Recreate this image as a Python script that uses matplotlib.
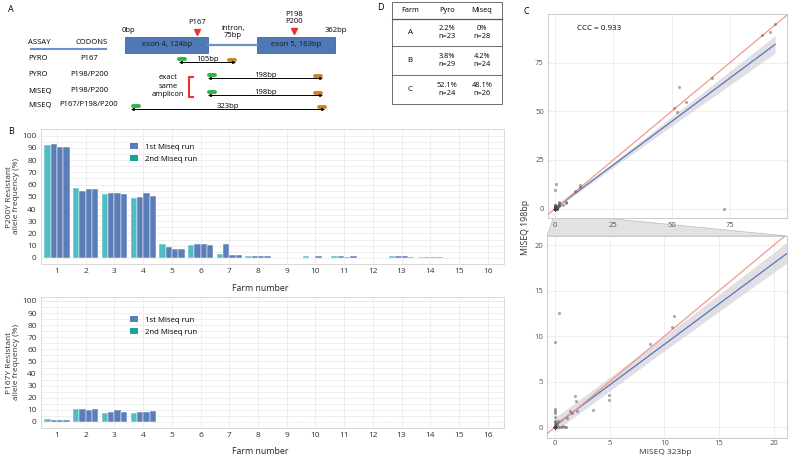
import numpy as np
import matplotlib
matplotlib.use('Agg')
import matplotlib.pyplot as plt
from matplotlib.patches import Rectangle, Polygon, Patch

plt.rcParams['font.family'] = ['Open Sans', 'DejaVu Sans']

W, H = 789, 458

# ---------------- data ----------------
farms = list(range(1, 17))
# each farm: [2nd Miseq run, 1st Miseq run x3]
p200y = [
    [92, 93, 91, 91],
    [57, 55, 56, 56],
    [52, 53, 53, 52],
    [49, 50, 53, 51],
    [11, 9, 7.5, 7.5],
    [10.5, 11, 11, 10.5],
    [3.5, 11, 2, 2],
    [1.8, 1.8, 1.8, 1.8],
    [0, 0, 0, 0],
    [1.2, 0, 1.2, 0],
    [1.2, 1.2, 1.0, 1.2],
    [0, 0, 0, 0],
    [1.2, 1.2, 1.2, 0.8],
    [0.7, 0.8, 1.0, 1.0],
    [0, 0, 0, 0],
    [0, 0, 0, 0],
]
p167y = [
    [2.5, 1.5, 2, 2],
    [11, 10.5, 10, 10.5],
    [7, 8, 9.5, 8],
    [7.5, 8.5, 8, 9],
] + [[0, 0, 0, 0]] * 12
bar_run = [2, 1, 1, 1]
run_names = {1: '1st Miseq run', 2: '2nd Miseq run'}

# panel C: per sample resistant allele frequency (%)
miseq_323 = [88.7, 92, 94.4, 67.2, 51, 52.5, 53.2, 56, 72.5,
             0, 0.4, 10.7, 10.9, 8.7, 4.9, 4.9, 3.5, 1.8, 1.9, 2.0, 1.4, 1.6, 1.1,
             0, 0, 0, 0, 0, 0, 0, 0.3, 0.2, 0.5, 0.6, 0.9, 1.0, 0.3, 0.1, 0.7]
miseq_198 = [89.3, 91, 95, 67.3, 51.6, 49.4, 62.4, 54.9, 0,
             9.4, 12.5, 11.0, 12.2, 9.1, 3.5, 3.0, 1.9, 3.4, 2.9, 1.8, 1.8, 1.5, 1.0,
             2.0, 1.8, 1.5, 1.1, 0.7, 0.6, 0.3, 0.7, 0.3, 0, 0, 0, 0, 0, 0.1, 0.1]
# samples at 0% in both assays (overplotted at the origin)
n_zero_both = 150
ccc_value = 0.933

# panel D
table_farms = ['A', 'B', 'C']
pyro_pct = ['2.2%', '3.8%', '52.1%']
pyro_n = [23, 29, 24]
miseq_pct = ['0%', '4.2%', '48.1%']
miseq_n = [28, 24, 26]

# panel A
assays = ['PYRO', 'PYRO', 'MISEQ', 'MISEQ']
codons = ['P167', 'P198/P200', 'P198/P200', 'P167/P198/P200']
amplicons = ['105bp', '198bp', '198bp', '323bp']

BLUE = '#5B7DB8'
TEAL = '#52BCC5'
TEAL_KEY = '#16A39A'
GRID = '#EBEBEB'

fig = plt.figure(figsize=(W / 100, H / 100), dpi=100)


def px_axes(x0, y0, x1, y1):
    return fig.add_axes([x0 / W, 1 - y1 / H, (x1 - x0) / W, (y1 - y0) / H])


# ---------------- panel A (schematic) ----------------
ax = px_axes(0, 0, 390, 115)
ax.set_xlim(0, 390)
ax.set_ylim(115, 0)
ax.axis('off')
fs = 5.5
ax.text(8, 9, 'A', fontsize=6.5, va='center')
ax.add_patch(Rectangle((125, 37), 83, 16, facecolor='#4F79B5', edgecolor='#3F66A0', lw=0.6))
ax.add_patch(Rectangle((257, 37), 78, 16, facecolor='#4F79B5', edgecolor='#3F66A0', lw=0.6))
ax.plot([208, 257], [45, 45], color='#6A92CC', lw=1.6)
ax.text(167, 45, 'exon 4, 124bp', fontsize=fs, ha='center', va='center', color='#1a1a1a')
ax.text(296, 45, 'exon 5, 163bp', fontsize=fs, ha='center', va='center', color='#1a1a1a')
ax.text(122, 31, '0bp', fontsize=fs, va='center')
ax.text(325, 31, '362bp', fontsize=fs, va='center')
ax.text(233, 32, 'intron,\n75bp', fontsize=fs, ha='center', va='center', linespacing=1.1)
ax.text(197, 23, 'P167', fontsize=fs, ha='center', va='center')
ax.text(294, 18, 'P198\nP200', fontsize=fs, ha='center', va='center', linespacing=1.1)
ax.plot([197, 294], [32, 31], linestyle='none', marker='v', ms=5, color='#E8352E')
ax.text(28, 43, 'ASSAY', fontsize=fs, va='center')
ax.text(75, 43, 'CODONS', fontsize=fs, va='center')
ax.plot([31, 106], [49, 49], color='#6A92CC', lw=1.5)

row_y = [58, 74, 91, 105]
fwd_x = [177, 207, 207, 131]
rev_x = [227, 313, 313, 317]
arrow_span = [(179, 236), (208, 323), (208, 323), (131, 325)]
for i, y in enumerate(row_y):
    ax.text(28, y, assays[i], fontsize=fs, va='center')
    ax.text(89, y, codons[i], fontsize=fs, va='center', ha='center')
    ax.plot([fwd_x[i] + 2, fwd_x[i] + 8], [y + 1, y + 1], color='#2DB34A', lw=2.8,
            solid_capstyle='round')
    ax.plot([rev_x[i] + 2, rev_x[i] + 8], [y + 1.5, y + 1.5], color='#C8832B', lw=2.8,
            solid_capstyle='round')
    x0, x1 = arrow_span[i]
    ax.annotate('', xy=(x1, y + 4.5), xytext=(x0, y + 4.5),
                arrowprops=dict(arrowstyle='<|-|>', lw=0.7, mutation_scale=4, color='black',
                                shrinkA=0, shrinkB=0))
    ax.text((x0 + x1) / 2, y + 1.5, amplicons[i], fontsize=fs, ha='center', va='center')
ax.text(168, 86, 'exact\nsame\namplicon', fontsize=fs, ha='center', va='center', linespacing=1.25)
ax.plot([193, 188.5, 188.5, 193], [77, 77, 97, 97], color='#E8352E', lw=1.5)

# ---------------- panel D (table) ----------------
ax = px_axes(380, 0, 512, 112)
ax.set_xlim(380, 512)
ax.set_ylim(112, 0)
ax.axis('off')
ax.text(377, 8, 'D', fontsize=6.5, va='center', clip_on=False)
ax.add_patch(Rectangle((392, 2), 110, 102, fill=False, edgecolor='#555555', lw=0.6))
for yl in [19, 46, 75]:
    ax.plot([392, 502], [yl, yl], color='#555555', lw=0.6 if yl != 19 else 0.9)
col_x = [410, 447, 482]
for cx, head in zip(col_x, ['Farm', 'Pyro', 'Miseq']):
    ax.text(cx, 11, head, fontsize=5.3, ha='center', va='center')
row_mid = [32.5, 60.5, 89.5]
for i, ym in enumerate(row_mid):
    ax.text(col_x[0], ym, table_farms[i], fontsize=5.8, ha='center', va='center')
    ax.text(col_x[1], ym, f'{pyro_pct[i]}\nn={pyro_n[i]}', fontsize=5.3, ha='center',
            va='center', linespacing=1.3)
    ax.text(col_x[2], ym, f'{miseq_pct[i]}\nn={miseq_n[i]}', fontsize=5.3, ha='center',
            va='center', linespacing=1.3)


# ---------------- panel B (bar charts) ----------------
def bar_panel(ax, values, ylab, leg_y):
    vals = np.array(values, dtype=float)
    width = 0.22
    offsets = (np.arange(4) - 1.5) * width
    for j in range(4):
        col = TEAL if bar_run[j] == 2 else BLUE
        ax.bar(np.array(farms) + offsets[j], vals[:, j], width=width, color=col,
               edgecolor='white', linewidth=0.35, zorder=3)
    ax.set_xlim(0.44, 16.57)
    ax.set_xticks(farms)
    ax.set_yticks(range(0, 101, 10))
    ax.set_yticks(range(5, 101, 10), minor=True)
    ax.grid(True, which='both', color=GRID, lw=0.6, zorder=0)
    ax.tick_params(length=0, labelsize=6, colors='#333333', pad=3)
    ax.tick_params(which='minor', length=0)
    for s in ax.spines.values():
        s.set_color('#D9D9D9')
        s.set_linewidth(0.7)
    ax.set_ylabel(ylab, fontsize=6, color='#333333', linespacing=1.0)
    ax.yaxis.set_label_coords(-0.046, 0.5)
    ax.text(0.473, -0.18, 'Farm number', transform=ax.transAxes, fontsize=6.3,
            ha='center', va='center', color='#222222')
    handles = [Patch(facecolor=BLUE, label=run_names[1]),
               Patch(facecolor=TEAL_KEY, label=run_names[2])]
    ax.legend(handles=handles, loc='upper left', bbox_to_anchor=(0.185, leg_y), frameon=False,
              fontsize=5.6, handlelength=1.0, handleheight=0.9, handletextpad=0.9,
              labelspacing=0.5, borderaxespad=0)


ax_top = px_axes(41, 129, 504, 264)
bar_panel(ax_top, p200y, 'P200Y Resistant\nallele frequency (%)', 0.92)
ax_top.set_ylim(-5, 105.5)
fig.text(8 / W, 1 - 131 / H, 'B', fontsize=6.5, va='center')

ax_bot = px_axes(41, 297, 504, 428)
bar_panel(ax_bot, p167y, 'P167Y Resistant\nallele frequency (%)', 0.88)
ax_bot.set_ylim(-5, 103.3)

# ---------------- panel C (scatter with zoom) ----------------
x = np.array(miseq_323 + [0] * n_zero_both, dtype=float)
y = np.array(miseq_198 + [0] * n_zero_both, dtype=float)
slope, intercept = np.polyfit(x, y, 1)
n = len(x)
resid = y - (slope * x + intercept)
s = np.sqrt(np.sum(resid ** 2) / (n - 2))
sxx = np.sum((x - x.mean()) ** 2)


def scatter_panel(ax, xlim, ylim, ticks):
    xs = np.linspace(x.min(), x.max(), 200)
    fit = slope * xs + intercept
    band = 1.97 * s * np.sqrt(1 / n + (xs - x.mean()) ** 2 / sxx)
    ax.fill_between(xs, fit - band, fit + band, color='#CFCBD3', alpha=0.6, lw=0, zorder=2)
    ax.plot(xs, fit, color='#5577BB', lw=0.9, zorder=3)
    ax.axline((0, 0), slope=1, color='#F29A88', lw=0.9, zorder=3)
    ax.scatter(x, y, s=5, color='#444444', alpha=0.45, lw=0, zorder=4)
    ax.set_xlim(*xlim)
    ax.set_ylim(*ylim)
    ax.set_xticks(ticks)
    ax.set_yticks(ticks)
    ax.grid(True, color=GRID, lw=0.6, zorder=0)
    ax.tick_params(length=0, labelsize=5.5, colors='#555555', pad=3)
    ax.set_axisbelow(True)
    for sp in ax.spines.values():
        sp.set_color('#CCCCCC')
        sp.set_linewidth(0.7)
    ax.set_facecolor('white')


ax_c1 = px_axes(548, 14, 787, 218)
scatter_panel(ax_c1, (-3, 99.5), (-4.8, 100), [0, 25, 50, 75])
ax_c1.text(0.12, 0.93, f'CCC = {ccc_value}', transform=ax_c1.transAxes, fontsize=5.8,
           va='center')
ax_c2 = px_axes(547, 236, 787, 438)
scatter_panel(ax_c2, (-0.73, 21.2), (-1.2, 21), [0, 5, 10, 15, 20])
ax_c2.tick_params(axis='x', pad=1.5)
fig.text(665 / W, 1 - 452.5 / H, 'MISEQ 323bp', fontsize=6, color='#333333',
         ha='center', va='center')
fig.text(526 / W, 1 - 227 / H, 'MISEQ 198bp', rotation=90, fontsize=6.3, color='#333333',
         ha='center', va='center')
fig.text(524 / W, 1 - 12 / H, 'C', fontsize=6.5, va='center')

# zoom indicator wedge between the two scatter panels
fig.canvas.draw()
to_fig = fig.transFigure.inverted()
zx0, zx1 = ax_c2.get_xlim()
p1 = to_fig.transform(ax_c1.transData.transform((zx0, -4.8)))
p2 = to_fig.transform(ax_c1.transData.transform((zx1, -4.8)))
p3 = to_fig.transform(ax_c2.transAxes.transform((1, 1)))
p4 = to_fig.transform(ax_c2.transAxes.transform((0, 1)))
fig.patches.append(Polygon([p1, p2, p3, p4], closed=True, transform=fig.transFigure,
                           facecolor='#E3E1E3', edgecolor='#BBBBBB', lw=0.5, zorder=-1))

fig.savefig('out.png', dpi=100, facecolor='white')
